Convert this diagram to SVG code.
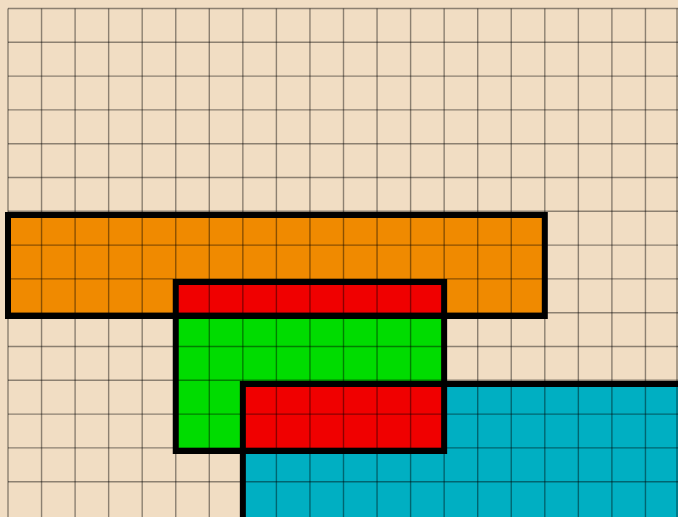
<svg xmlns="http://www.w3.org/2000/svg" width="678" height="517" viewBox="0 0 678 517">
<style>
.grid{fill:none;stroke:#000;stroke-opacity:0.42;stroke-width:1.4}
.edge{fill:none;stroke:#000;stroke-width:6;stroke-linejoin:miter}
</style>
<rect x="0" y="0" width="678" height="517" fill="#F1DDC3"/>
<g id="fills">
<g id="orange"><rect x="8" y="215" width="536.8" height="101" fill="#F08A00"/></g>
<g id="green"><rect x="175.75" y="282" width="268.4" height="169" fill="#00DC00"/></g>
<g id="cyan"><rect x="242.85" y="384" width="450" height="150" fill="#00AFC2"/></g>
<g id="red-top"><rect x="175.75" y="282" width="268.4" height="34" fill="#F00000"/></g>
<g id="red-bottom"><rect x="242.85" y="384" width="201.3" height="67" fill="#F00000"/></g>
</g>
<g id="grid">
<path class="grid" d="M8 8.5V517M41.55 8.5V517M75.1 8.5V517M108.65 8.5V517M142.2 8.5V517M175.75 8.5V517M209.3 8.5V517M242.85 8.5V517M276.4 8.5V517M309.95 8.5V517M343.5 8.5V517M377.05 8.5V517M410.6 8.5V517M444.15 8.5V517M477.7 8.5V517M511.25 8.5V517M544.8 8.5V517M578.35 8.5V517M611.9 8.5V517M645.45 8.5V517M677 8.5V517"/>
<path class="grid" d="M8 8.5H678M8 42.3H678M8 76.1H678M8 109.9H678M8 143.7H678M8 177.5H678M8 211.3H678M8 245.1H678M8 278.9H678M8 312.7H678M8 346.5H678M8 380.3H678M8 414.1H678M8 447.9H678M8 481.7H678"/>
</g>
<g id="connectors">
<rect class="edge" x="8" y="215" width="536.8" height="101"/>
<rect class="edge" x="175.75" y="282" width="268.4" height="169"/>
<rect class="edge" x="242.85" y="384" width="450" height="150"/>
</g>
</svg>
